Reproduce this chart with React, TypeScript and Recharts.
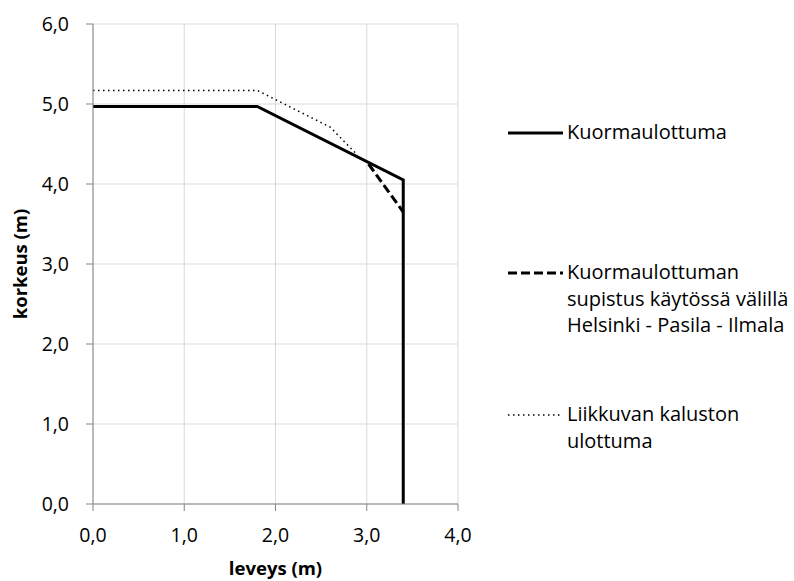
import { LineChart, Line, XAxis, YAxis, CartesianGrid } from "recharts";

// ulottumat (m): leveys x, korkeus y
const kuormaulottuma = [
  { x: 0, y: 4.97 },
  { x: 1.8, y: 4.97 },
  { x: 3.4, y: 4.05 },
  { x: 3.4, y: 0 },
];

const supistus = [
  { x: 3.02, y: 4.25 },
  { x: 3.4, y: 3.65 },
];

const kalustonUlottuma = [
  { x: 0, y: 5.17 },
  { x: 1.8, y: 5.17 },
  { x: 2.6, y: 4.71 },
  { x: 2.9, y: 4.36 },
];

const xTicks = [0, 1, 2, 3, 4];
const yTicks = [0, 1, 2, 3, 4, 5, 6];

const FONT = "'Open Sans', sans-serif";
const AXIS = "#868686";
const DASH = "9 4";
const DOT = "1.5 3.5";
const fmt = (v: number) => v.toFixed(1).replace(".", ",");

function LegendItem({ lineY, dash, width, lines }: { lineY: number; dash?: string; width: number; lines: string[] }) {
  return (
    <>
      <svg width={60} height={10} style={{ position: "absolute", left: 506, top: lineY - 5 }}>
        <line x1={2} x2={57} y1={5} y2={5} stroke="#000" strokeWidth={width} strokeDasharray={dash} />
      </svg>
      <div
        style={{
          position: "absolute",
          left: 567,
          top: lineY - 14,
          fontFamily: FONT,
          fontSize: 20,
          lineHeight: "26.5px",
          color: "#000",
          whiteSpace: "nowrap",
        }}
      >
        {lines.map((l) => (
          <div key={l}>{l}</div>
        ))}
      </div>
    </>
  );
}

export default function App() {
  return (
    <div style={{ position: "absolute", left: 0, top: 0, width: 794, height: 581, background: "#fff", overflow: "hidden" }}>
      <LineChart width={794} height={581} margin={{ top: 24, right: 336, left: 33, bottom: 33 }}>
        <CartesianGrid stroke="#d9d9d9" />
        <XAxis
          type="number"
          dataKey="x"
          domain={[0, 4]}
          ticks={xTicks}
          tickFormatter={fmt}
          height={44}
          stroke={AXIS}
          tickSize={7}
          tickMargin={17}
          tick={{ fill: "#000", fontSize: 19.5, fontFamily: FONT }}
          label={{ value: "leveys (m)", position: "insideBottom", offset: -27, style: { fontFamily: FONT, fontSize: 18.5, fontWeight: "bold", fill: "#000" } }}
        />
        <YAxis
          type="number"
          dataKey="y"
          domain={[0, 6]}
          ticks={yTicks}
          tickFormatter={fmt}
          width={60}
          stroke={AXIS}
          tickSize={7}
          tickMargin={17}
          tick={{ fill: "#000", fontSize: 19.5, fontFamily: FONT }}
          label={{ value: "korkeus (m)", angle: -90, position: "insideLeft", dx: -18, style: { textAnchor: "middle", fontFamily: FONT, fontSize: 18.5, fontWeight: "bold", fill: "#000" } }}
        />
        <Line data={kalustonUlottuma} dataKey="y" stroke="#000" strokeWidth={1.5} strokeDasharray={DOT} dot={false} isAnimationActive={false} />
        <Line data={supistus} dataKey="y" stroke="#000" strokeWidth={3} strokeDasharray={DASH} dot={false} isAnimationActive={false} />
        <Line data={kuormaulottuma} dataKey="y" stroke="#000" strokeWidth={3} dot={false} isAnimationActive={false} />
      </LineChart>
      <LegendItem lineY={133} width={3} lines={["Kuormaulottuma"]} />
      <LegendItem lineY={273} width={3} dash={DASH} lines={["Kuormaulottuman", "supistus käytössä välillä", "Helsinki - Pasila - Ilmala"]} />
      <LegendItem lineY={415} width={1.5} dash={DOT} lines={["Liikkuvan kaluston", "ulottuma"]} />
    </div>
  );
}
